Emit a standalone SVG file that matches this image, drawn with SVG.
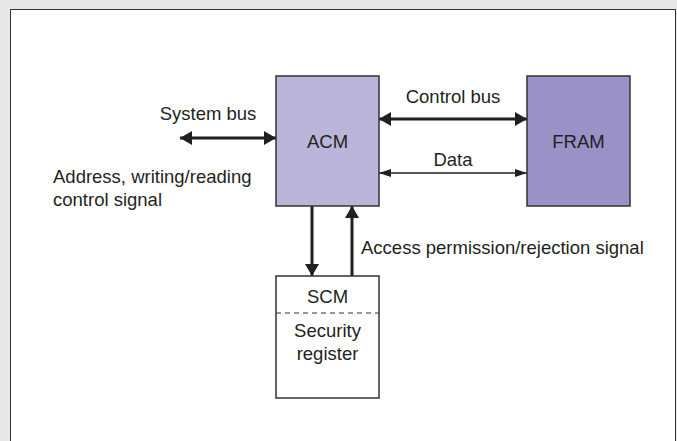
<svg xmlns="http://www.w3.org/2000/svg" width="677" height="441" viewBox="0 0 677 441">
<defs>
<style>
text{font-family:"Liberation Sans",Arial,sans-serif;font-size:18.5px;fill:#231f20}
.box{stroke:#333;stroke-width:1.5}
.thick{stroke:#231f20;stroke-width:3;fill:none}
.thin{stroke:#231f20;stroke-width:1.3;fill:none}
.mid{text-anchor:middle}
</style>
<marker id="hb" viewBox="0 0 12 14" refX="12" refY="7" markerWidth="12" markerHeight="14" markerUnits="userSpaceOnUse" orient="auto-start-reverse">
<path d="M0,0L12,7L0,14z" fill="#231f20"/>
</marker>
<marker id="hs" viewBox="0 0 12 8" refX="12" refY="4" markerWidth="12" markerHeight="8" markerUnits="userSpaceOnUse" orient="auto-start-reverse">
<path d="M0,0L12,4L0,8z" fill="#231f20"/>
</marker>
</defs>
<rect x="0" y="0" width="677" height="441" fill="#e6e7e8"/>
<rect x="10.5" y="9.5" width="665" height="440" fill="#fff" stroke="#333" stroke-width="1"/>
<g id="connectors">
<line class="thick" x1="180" y1="138" x2="276" y2="138" marker-start="url(#hb)" marker-end="url(#hb)"/>
<line class="thick" x1="379" y1="119" x2="527" y2="119" marker-start="url(#hb)" marker-end="url(#hb)"/>
<line class="thin" x1="379" y1="173" x2="527" y2="173" marker-start="url(#hs)" marker-end="url(#hs)"/>
<line class="thick" x1="312" y1="206" x2="312" y2="276" marker-end="url(#hb)"/>
<line class="thick" x1="352" y1="276" x2="352" y2="206" marker-end="url(#hb)"/>
<text x="208" y="120" class="mid">System bus</text>
<text x="453" y="103" class="mid">Control bus</text>
<text x="453" y="166" class="mid">Data</text>
<text x="53" y="183">Address, writing/reading</text>
<text x="53" y="206">control signal</text>
<text x="361" y="254">Access permission/rejection signal</text>
</g>
<g id="acm">
<rect class="box" x="276" y="76" width="103" height="130" fill="#bbb5da"/>
<text x="327.5" y="148" class="mid">ACM</text>
</g>
<g id="fram">
<rect class="box" x="527" y="76" width="103" height="130" fill="#9a91c6"/>
<text x="578.5" y="148" class="mid">FRAM</text>
</g>
<g id="scm">
<rect class="box" x="276" y="276" width="103" height="122" fill="#fff"/>
<line x1="276" y1="313" x2="379" y2="313" stroke="#333" stroke-width="1" stroke-dasharray="5,4"/>
<text x="327.5" y="303" class="mid">SCM</text>
<text x="327.5" y="337" class="mid">Security</text>
<text x="327.5" y="360" class="mid">register</text>
</g>
</svg>
